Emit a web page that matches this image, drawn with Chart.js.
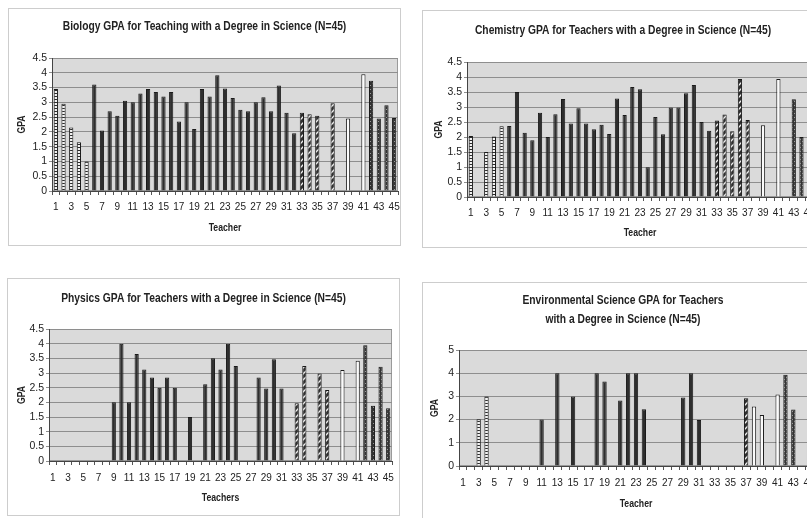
<!DOCTYPE html>
<html>
<head>
<meta charset="utf-8">
<script src="https://cdn.jsdelivr.net/npm/chart.js@4.4.1/dist/chart.umd.min.js"></script>
<style>
  html, body { margin: 0; padding: 0; background: #fff; }
  body { width: 807px; height: 518px; overflow: hidden; position: relative; }
  .panel { position: absolute; border: 1px solid #cdcdcd; background: #fff; }
  .panel canvas { display: block; }
</style>
</head>
<body>
<div class="panel" style="left:8px;top:8px;width:391px;height:236px"><canvas id="chartBio" width="391" height="236"></canvas></div>
<div class="panel" style="left:422px;top:10px;width:400px;height:236px"><canvas id="chartChem" width="400" height="236"></canvas></div>
<div class="panel" style="left:7px;top:278px;width:391px;height:236px"><canvas id="chartPhys" width="391" height="236"></canvas></div>
<div class="panel" style="left:422px;top:282px;width:400px;height:236px"><canvas id="chartEnv" width="400" height="236"></canvas></div>

<script>
// ── Données ──
var TEACHERS = ['1','2','3','4','5','6','7','8','9','10','11','12','13','14','15',
  '16','17','18','19','20','21','22','23','24','25','26','27','28','29','30',
  '31','32','33','34','35','36','37','38','39','40','41','42','43','44','45'];

// type de barre par enseignant (C = quadrillé, D = foncé, H = hachuré, W = blanc, S = moucheté)
var TEACHER_TYPE = ['C','C','C','C','C',
  'D','D','D','D','D','D','D','D','D','D','D','D','D','D','D','D','D','D','D','D','D','D','D','D','D','D','D',
  'H','H','H','H','H',
  'W','W','W','W',
  'S','S','S','S'];

var BIOLOGY_GPA = [3.45, 2.95, 2.15, 1.65, 1.0,
  3.6, 2.05, 2.7, 2.55, 3.05,
  3.0, 3.3, 3.45, 3.35, 3.2,
  3.35, 2.35, 3.0, 2.1, 3.45,
  3.2, 3.92, 3.47, 3.15, 2.75,
  2.7, 3.0, 3.17, 2.7, 3.57,
  2.65, 1.95, 2.65, 2.6, 2.55,
  null, 2.97, null, 2.45, null,
  3.95, 3.73, 2.45, 2.9, 2.47];

var CHEMISTRY_GPA = [2.03, null, 1.5, 2.02, 2.36,
  2.37, 3.5, 2.14, 1.89, 2.81,
  2.0, 2.76, 3.27, 2.45, 2.96,
  2.45, 2.26, 2.41, 2.1, 3.28,
  2.73, 3.67, 3.59, 0.99, 2.67,
  2.09, 2.98, 2.98, 3.46, 3.73,
  2.5, 2.21, 2.55, 2.75, 2.19,
  3.93, 2.57, null, 2.39, null,
  3.93, null, 3.26, 2.0, null];

var PHYSICS_GPA = [null, null, null, null, null,
  null, null, null, 2.0, 4.0,
  2.0, 3.65, 3.12, 2.85, 2.5,
  2.85, 2.5, null, 1.5, null,
  2.62, 3.5, 3.12, 4.0, 3.24,
  null, null, 2.85, 2.47, 3.47,
  2.47, null, 1.97, 3.24, null,
  2.98, 2.42, null, 3.1, null,
  3.42, 3.95, 1.88, 3.21, 1.8];

var ENVIRONMENTAL_GPA = [null, null, 2.02, 3.0, null,
  null, null, null, null, null,
  2.0, null, 4.0, null, 3.0,
  null, null, 4.0, 3.64, null,
  2.82, 4.0, 4.0, 2.45, null,
  null, null, null, 2.95, 4.0,
  1.98, null, null, null, null,
  null, 2.92, 2.56, 2.2, null,
  3.08, 3.93, 2.44, null, 0.93];

var GPA_TICKS_45 = { max: 4.5, step: 0.5 };
var GPA_TICKS_5 = { max: 5, step: 1 };

// ── Styles ──
var SANS = "'Liberation Sans', Arial, sans-serif";
var TEXT = '#222';
var SQUEEZE = 0.79;   // les titres du scan sont très étroits

function makePattern(kind) {
  var c = document.createElement('canvas');
  var g = c.getContext('2d');
  if (kind === 'C') {
    c.width = 4; c.height = 3;
    g.fillStyle = '#f4f4f4'; g.fillRect(0, 0, 4, 3);
    g.fillStyle = '#2a2a2a'; g.fillRect(0, 0, 4, 1);
  } else if (kind === 'H') {
    c.width = 6; c.height = 6;
    g.fillStyle = '#2f2f2f'; g.fillRect(0, 0, 6, 6);
    g.strokeStyle = '#eeeeee'; g.lineWidth = 1.4;
    g.beginPath();
    g.moveTo(0, 6); g.lineTo(6, 0);
    g.moveTo(-3, 3); g.lineTo(3, -3);
    g.moveTo(3, 9); g.lineTo(9, 3);
    g.stroke();
  } else {
    c.width = 4; c.height = 4;
    g.fillStyle = '#333'; g.fillRect(0, 0, 4, 4);
    g.fillStyle = '#9a9a9a'; g.fillRect(1, 0, 1, 1); g.fillRect(3, 2, 1, 1);
  }
  return g.createPattern(c, 'repeat');
}

var FILLS = {
  C: makePattern('C'),
  D: '#2e2e2e',
  H: makePattern('H'),
  W: '#fbfbfb',
  S: makePattern('S')
};

// fond gris de la zone de tracé (style Excel)
var plotArea = {
  id: 'plotArea',
  beforeDraw: function(chart) {
    var a = chart.chartArea, ctx = chart.ctx;
    ctx.save();
    ctx.fillStyle = '#dadada';
    ctx.fillRect(a.left, a.top, a.right - a.left, a.bottom - a.top);
    ctx.strokeStyle = '#9a9a9a';
    ctx.lineWidth = 1;
    ctx.strokeRect(a.left + 0.5, a.top + 0.5, a.right - a.left - 1, a.bottom - a.top - 1);
    ctx.restore();
  }
};

function squished(ctx, text, x, y, rot) {
  ctx.save();
  ctx.translate(x, y);
  if (rot) ctx.rotate(rot);
  ctx.scale(SQUEEZE, 1);
  ctx.fillText(text, 0, 0);
  ctx.restore();
}

// titres condensés (titre du graphique + titres des axes)
var condensedTitles = {
  id: 'condensedTitles',
  afterDraw: function(chart, args, opts) {
    var ctx = chart.ctx, a = chart.chartArea;
    ctx.save();
    ctx.fillStyle = TEXT;
    ctx.textAlign = 'center';
    ctx.textBaseline = 'alphabetic';
    ctx.font = 'bold 13px ' + SANS;
    opts.title.forEach(function(line, i) {
      squished(ctx, line, chart.width / 2, opts.titleY[i]);
    });
    ctx.font = 'bold 11px ' + SANS;
    squished(ctx, opts.xTitle, (a.left + a.right) / 2, opts.xTitleY);
    ctx.textBaseline = 'middle';
    squished(ctx, 'GPA', opts.yTitleX, (a.top + a.bottom) / 2, -Math.PI / 2);
    ctx.restore();
  }
};

function gpaChart(id, title, xTitle, values, yTicks, geo) {
  return new Chart(document.getElementById(id), {
    type: 'bar',
    data: {
      labels: TEACHERS,
      datasets: [{
        data: values,
        backgroundColor: function(c) { return FILLS[TEACHER_TYPE[c.dataIndex]]; },
        borderColor: '#1a1a1a',
        borderWidth: 1,
        categoryPercentage: 1,
        barPercentage: 0.55
      }]
    },
    options: {
      responsive: false,
      animation: false,
      layout: { padding: { left: 0, right: geo.right, top: geo.top, bottom: 0 } },
      plugins: {
        legend: { display: false },
        tooltip: { enabled: false },
        title: { display: false },
        condensedTitles: { title: title, titleY: geo.titleY, xTitle: xTitle, xTitleY: geo.xTitleY, yTitleX: geo.yTitleX }
      },
      scales: {
        x: {
          grid: { display: true, drawOnChartArea: false, offset: true, tickLength: 4, color: '#555' },
          border: { color: '#444' },
          ticks: {
            autoSkip: false, maxRotation: 0, minRotation: 0,
            padding: geo.xTickPad, color: TEXT,
            font: { family: SANS, size: 10 },
            callback: function(v, i) { return i % 2 === 0 ? TEACHERS[i] : ''; }
          },
          afterFit: function(s) { s.height = geo.xH; s.paddingLeft = 0; s.paddingRight = 0; }
        },
        y: {
          min: 0,
          max: yTicks.max,
          grid: { color: '#8e8e8e', tickLength: 3 },
          border: { color: '#444' },
          ticks: {
            stepSize: yTicks.step, autoSkip: false, padding: 2, color: TEXT,
            font: { family: SANS, size: 10.5 },
            callback: function(v) { return String(v); }
          },
          afterFit: function(s) { s.width = geo.yW; s.paddingTop = 0; s.paddingBottom = 0; }
        }
      }
    },
    plugins: [plotArea, condensedTitles]
  });
}

gpaChart('chartBio', ['Biology GPA for Teaching with a Degree in Science (N=45)'], 'Teacher',
  BIOLOGY_GPA, GPA_TICKS_45,
  { right: 2, top: 49, titleY: [21], xH: 54, xTickPad: 6, xTitleY: 222, yW: 43, yTitleX: 13 });

gpaChart('chartChem', ['Chemistry GPA for Teachers with a Degree in Science (N=45)'], 'Teacher',
  CHEMISTRY_GPA, GPA_TICKS_45,
  { right: 10, top: 51, titleY: [23], xH: 50, xTickPad: 6, xTitleY: 224.5, yW: 44, yTitleX: 16 });

gpaChart('chartPhys', ['Physics GPA for Teachers with a Degree in Science (N=45)'], 'Teachers',
  PHYSICS_GPA, GPA_TICKS_45,
  { right: 7, top: 50, titleY: [23], xH: 54, xTickPad: 7, xTitleY: 222, yW: 41, yTitleX: 14 });

gpaChart('chartEnv', ['Environmental Science GPA for Teachers', 'with a Degree in Science (N=45)'], 'Teacher',
  ENVIRONMENTAL_GPA, GPA_TICKS_5,
  { right: 10, top: 67, titleY: [21, 40], xH: 53, xTickPad: 7, xTitleY: 224, yW: 36, yTitleX: 12 });
</script>
</body>
</html>
